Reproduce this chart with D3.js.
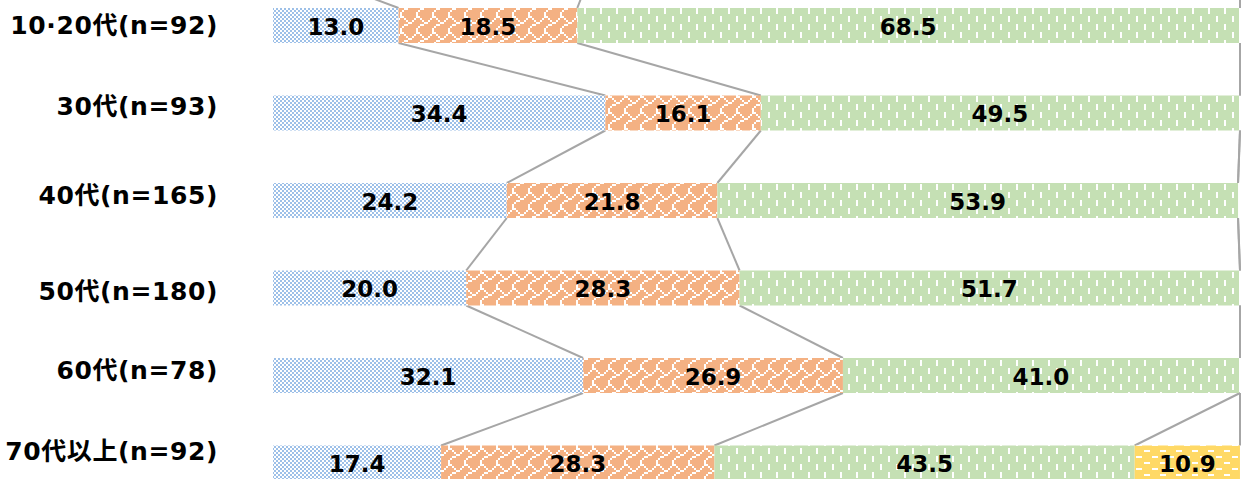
<!DOCTYPE html>
<html>
<head>
<meta charset="utf-8">
<script src="https://cdn.jsdelivr.net/npm/d3@7"></script>
<style>
  html, body { margin: 0; padding: 0; background: #fff; }
  svg { display: block; }
  text { font-family: "DejaVu Sans", "Noto Sans CJK JP", sans-serif; font-weight: bold; fill: #000; }
</style>
</head>
<body>
<svg id="chart" width="1254" height="479"></svg>
<script>
// ---- data ----
const categories = ["10·20代(n=92)", "30代(n=93)", "40代(n=165)", "50代(n=180)", "60代(n=78)", "70代以上(n=92)"];
const series1 = [13.0, 34.4, 24.2, 20.0, 32.1, 17.4];
const series2 = [18.5, 16.1, 21.8, 28.3, 26.9, 28.3];
const series3 = [68.5, 49.5, 53.9, 51.7, 41.0, 43.5];
const series4 = [0, 0, 0, 0, 0, 10.9];
// cumulative boundaries of the (cropped) row just above the visible area
const rowAboveCum = [4.7, 32.7, 100, 100];

// ---- style ----
const patternIds = ["pBlue", "pOrange", "pGreen", "pYellow"];
const labelNudge = [0, -7, -5, 3, -5, -12];
const connectorColor = "#a6a6a6";

const svg = d3.select("#chart");
const defs = svg.append("defs");

// bitmap patterns (drawn at 2x)
function bitmapPattern(id, bg, fg, rows) {
  const w = rows[0].length * 2, h = rows.length * 2;
  const p = defs.append("pattern").attr("id", id)
    .attr("patternUnits", "userSpaceOnUse").attr("width", w).attr("height", h);
  p.append("rect").attr("width", w).attr("height", h).attr("fill", bg);
  rows.forEach((r, yy) => {
    for (let xx = 0; xx < r.length; xx++) {
      if (r[xx] === "1") p.append("rect").attr("x", xx * 2).attr("y", yy * 2)
        .attr("width", 2).attr("height", 2).attr("fill", fg);
    }
  });
}
bitmapPattern("pBlue", "#ffffff", "#9dc0e8", [
  "10101010", "01010101", "10101010", "01010101",
  "10101010", "01010101", "10101010", "01010101"]);
bitmapPattern("pOrange", "#f4b183", "#ffffff", [
  "11000000", "00100001", "00010010", "00001100",
  "00110000", "01000000", "10000000", "10000000"]);
bitmapPattern("pGreen", "#c5e0b4", "#ffffff", [
  "10000000", "10000000", "10000000", "00000000",
  "00001000", "00001000", "00001000", "00000000"]);
bitmapPattern("pYellow", "#ffd966", "#ffffff", [
  "11100000", "00000000", "00000000",
  "00001110", "00000000", "00000000"]);

// ---- scales ----
const x = d3.scaleLinear().domain([0, 100]).range([273, 1239]);
const y = d3.scaleBand().domain(categories).range([8, 480.5]).paddingInner(0.6).paddingOuter(0);

const rows = categories.map((c, i) => {
  const vals = [series1[i], series2[i], series3[i], series4[i]];
  let acc = 0;
  const segs = vals.map((v, k) => { const s = { k, v, x0: acc, x1: acc + v }; acc += v; return s; });
  return { cat: c, i, segs, cum: segs.map(s => s.x1) };
});

// ---- connectors ----
const gLines = svg.append("g");
const gapAbove = 30;
const allRows = [{ cum: rowAboveCum, bottom: y(categories[0]) - gapAbove }]
  .concat(rows.map(r => ({ cum: r.cum, top: y(r.cat), bottom: y(r.cat) + y.bandwidth() })));
for (let r = 0; r < allRows.length - 1; r++) {
  const a = allRows[r], b = allRows[r + 1];
  for (let k = 0; k < 4; k++) {
    const xa = Math.min(x(a.cum[k]), x(100)), xb = Math.min(x(b.cum[k]), x(100));
    gLines.append("line")
      .attr("x1", xa + (a.cum[k] >= 100 ? 1 : 0)).attr("y1", a.bottom)
      .attr("x2", xb + (b.cum[k] >= 100 ? 1 : 0)).attr("y2", b.top)
      .attr("stroke", connectorColor).attr("stroke-width", 2);
  }
}

// ---- bars ----
const gBars = svg.append("g");
rows.forEach(r => {
  r.segs.filter(s => s.v > 0).forEach(s => {
    gBars.append("rect")
      .attr("x", x(s.x0)).attr("y", y(r.cat))
      .attr("width", x(s.x1) - x(s.x0)).attr("height", y.bandwidth())
      .attr("fill", `url(#${patternIds[s.k]})`);
    gBars.append("text")
      .attr("x", (x(s.x0) + x(s.x1)) / 2)
      .attr("y", y(r.cat) + y.bandwidth() / 2 + 1)
      .attr("text-anchor", "middle").attr("dominant-baseline", "central")
      .style("font-size", "23px")
      .text(s.v.toFixed(1));
  });
});

// ---- category labels ----
svg.append("g").selectAll("text").data(categories).join("text")
  .attr("x", 218)
  .attr("y", (d, i) => y(d) + y.bandwidth() / 2 + labelNudge[i])
  .attr("text-anchor", "end").attr("dominant-baseline", "central")
  .style("font-size", "25px").style("letter-spacing", "0.6px")
  .text(d => d);
</script>
</body>
</html>
